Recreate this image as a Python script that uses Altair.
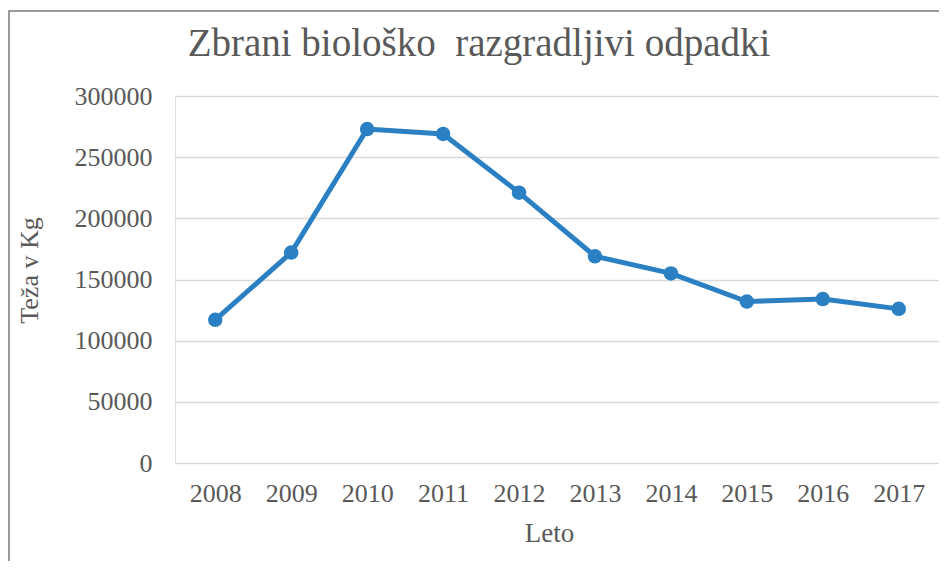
import altair as alt
import pandas as pd

years = ["2008", "2009", "2010", "2011", "2012", "2013", "2014", "2015", "2016", "2017"]
weights = [117000, 172000, 273000, 269000, 221000, 169000, 155000, 132000, 134000, 126000]

title_text = "Zbrani biološko \u00a0razgradljivi odpadki"
x_title = "Leto"
y_title = "Teža v Kg"
y_ticks = [0, 50000, 100000, 150000, 200000, 250000, 300000]

df = pd.DataFrame({"Leto": years, "Teza": weights})
title_df = pd.DataFrame({"t": [title_text]})

FONT = "Liberation Serif"
TXT = "#595959"
BLUE = "#2a80c2"

x_enc = alt.X(
    "Leto:O",
    sort=years,
    scale=alt.Scale(type="point", padding=0.53),
    axis=alt.Axis(
        title=x_title,
        labelAngle=0,
        ticks=False,
        domain=False,
        grid=False,
        labelPadding=17,
        labelFontSize=26,
        labelFont=FONT,
        labelColor=TXT,
        titleFont=FONT,
        titleFontSize=27,
        titleFontWeight="normal",
        titleColor=TXT,
        titleX=374,
        titleY=70,
        titleBaseline="middle",
    ),
)
y_enc = alt.Y(
    "Teza:Q",
    scale=alt.Scale(domain=[0, 300000], nice=False),
    axis=alt.Axis(
        title=y_title,
        values=y_ticks,
        format="d",
        ticks=False,
        domain=False,
        grid=True,
        gridColor="#d9d9d9",
        gridWidth=1.3,
        labelPadding=23,
        labelFontSize=26,
        labelFont=FONT,
        labelColor=TXT,
        titleFont=FONT,
        titleFontSize=26,
        titleFontWeight="normal",
        titleColor=TXT,
        titleX=-146,
        titleY=174,
        titleBaseline="middle",
        titleAngle=270,
    ),
)

line = alt.Chart(df).mark_line(color=BLUE, strokeWidth=5).encode(x=x_enc, y=y_enc)
pts = alt.Chart(df).mark_point(filled=True, color=BLUE, size=210, opacity=1).encode(x=x_enc, y=y_enc)

border = alt.Chart(title_df).mark_rect(fill=None, stroke="#7a7a7a", strokeWidth=1.5).encode(
    x=alt.value(-166), x2=alt.value(820), y=alt.value(-85), y2=alt.value(520)
)

title = alt.Chart(title_df).mark_text(
    font=FONT,
    fontSize=39,
    fontWeight="normal",
    color=TXT,
    align="center",
    baseline="middle",
).encode(text="t:N", x=alt.value(304), y=alt.value(-52))

chart = (
    alt.layer(border, line, pts, title)
    .properties(
        width=764,
        height=367,
        padding={"left": 167, "top": 88, "right": 0, "bottom": 98},
        autosize=alt.AutoSizeParams(type="none"),
    )
    .configure_view(stroke=None)
    .configure(background="white")
)

chart.save("out.html", embed_options={"renderer": "svg", "actions": False})
